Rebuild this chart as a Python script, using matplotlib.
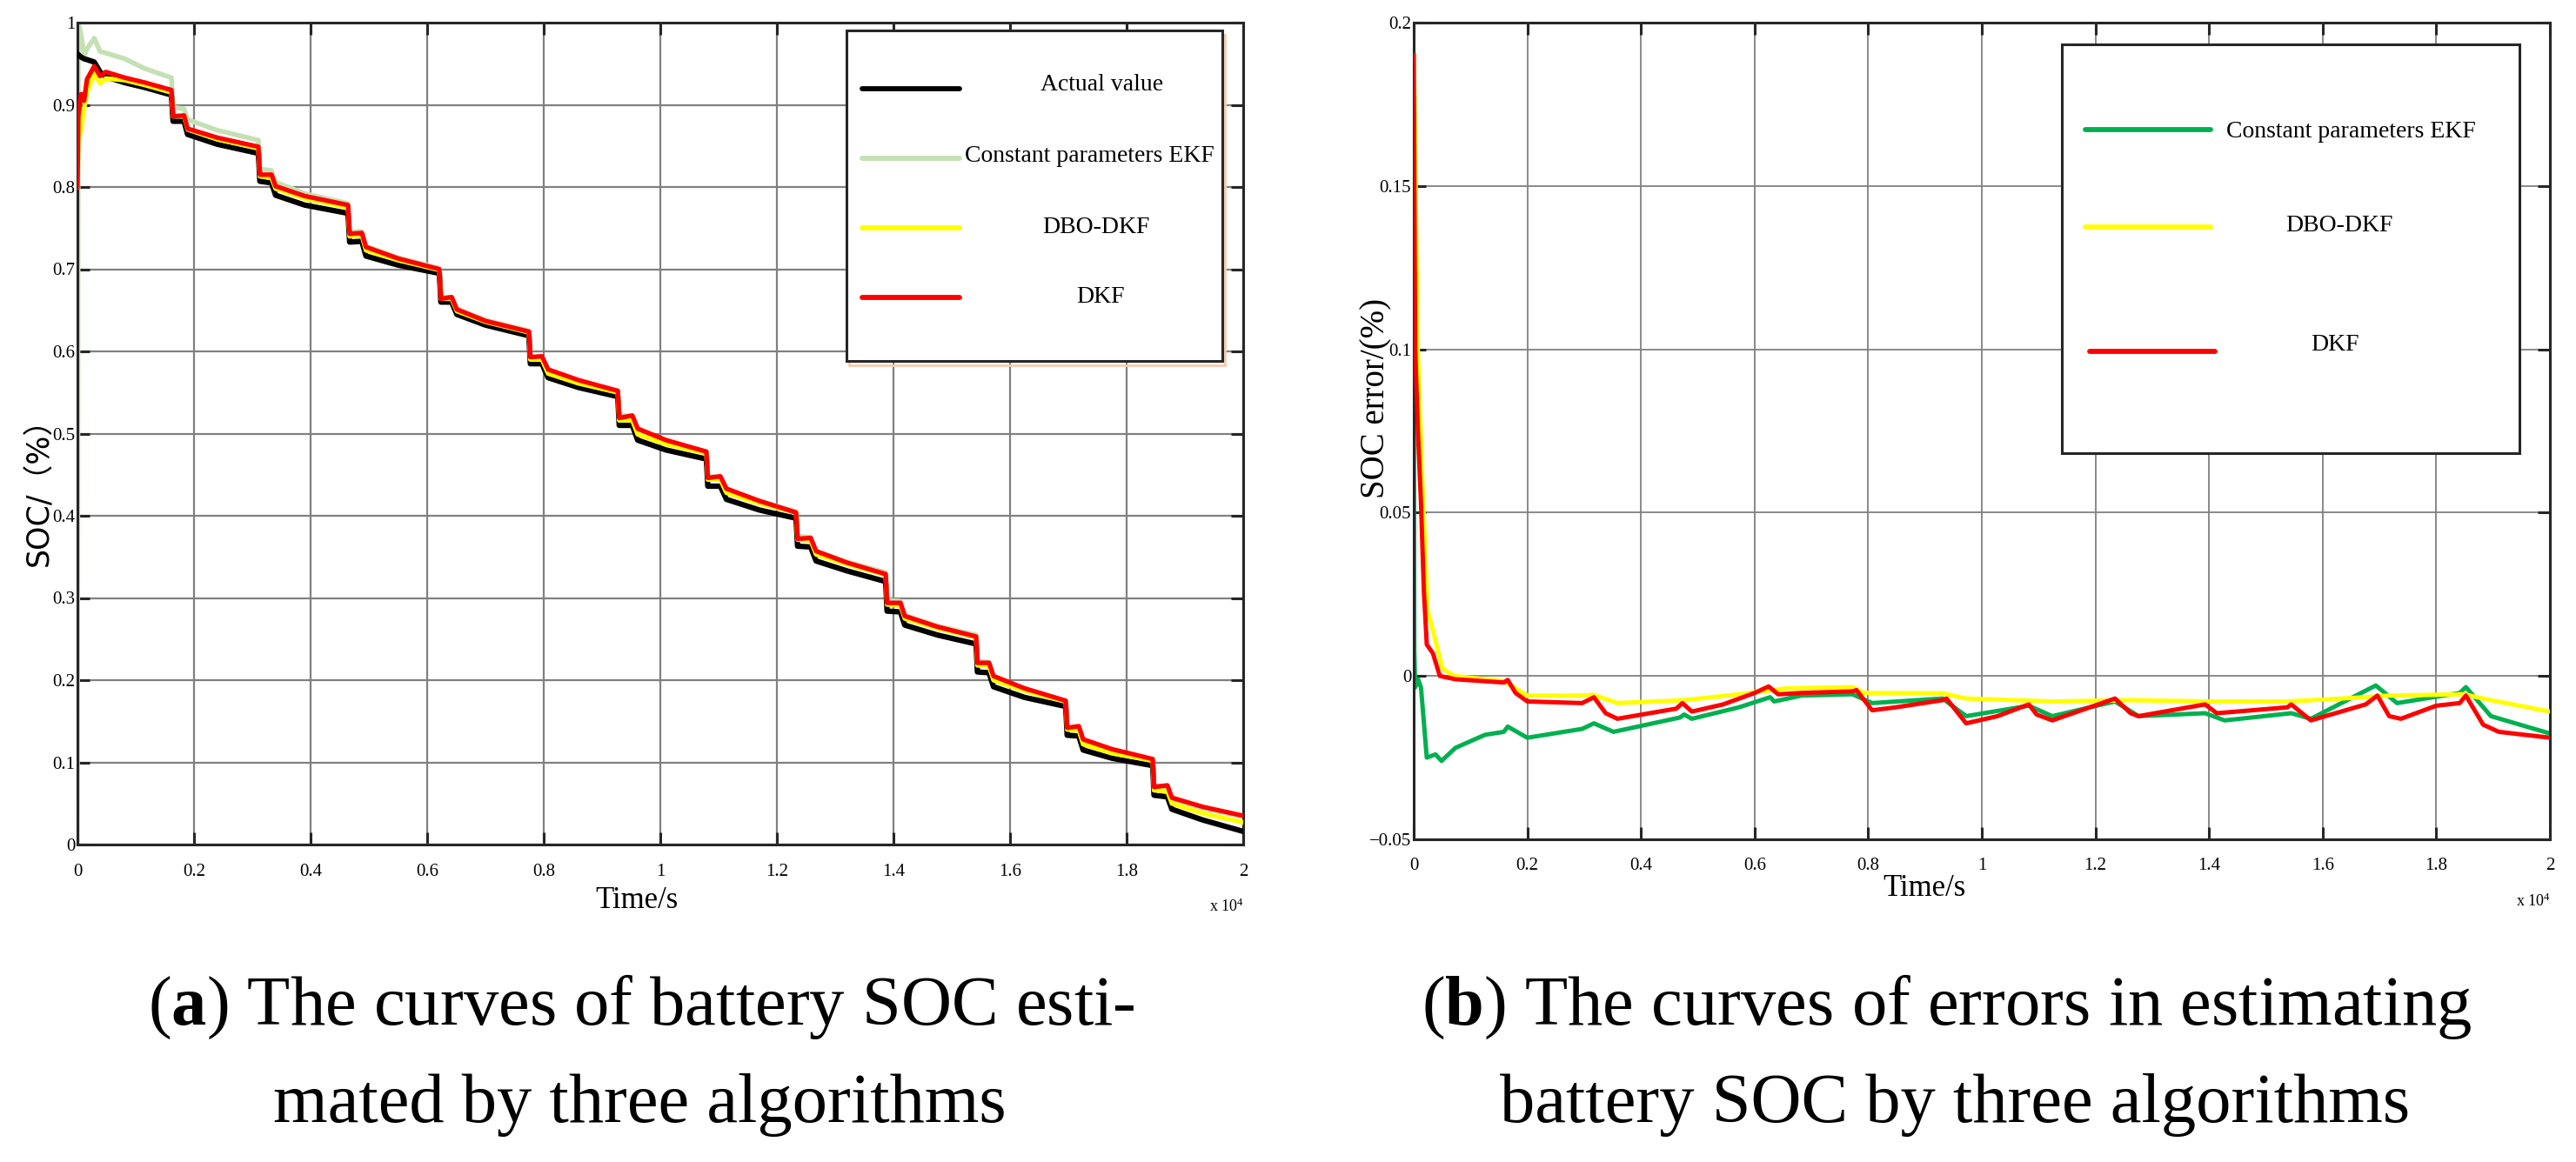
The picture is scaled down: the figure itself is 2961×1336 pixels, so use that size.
import matplotlib
matplotlib.use("Agg")
import matplotlib.pyplot as plt
from matplotlib.patches import Rectangle
from matplotlib.lines import Line2D

# ---------------- data: left panel (SOC estimates) ----------------
soc_time = [0, 15, 64, 114, 164, 288, 388, 487, 810, 1160, 1612,
            1640, 1830, 1890, 2400, 3104,
            3130, 3330, 3400, 3900, 4642,
            4670, 4880, 4950, 5500, 6209,
            6235, 6420, 6510, 7000, 7746,
            7770, 7970, 8075, 8600, 9270,
            9295, 9520, 9612, 10100, 10790,
            10815, 11030, 11134, 11700, 12328,
            12355, 12580, 12672, 13200, 13866,
            13890, 14120, 14194, 14750, 15418,
            15440, 15640, 15716, 16250, 16955,
            16980, 17180, 17254, 17750, 18448,
            18470, 18700, 18776, 19300, 20000]

soc_actual = [0.962, 0.961, 0.958, 0.956, 0.955, 0.952, 0.940, 0.934, 0.927, 0.921, 0.912,
              0.880, 0.880, 0.864, 0.852, 0.841,
              0.807, 0.805, 0.790, 0.778, 0.768,
              0.733, 0.734, 0.716, 0.705, 0.695,
              0.660, 0.660, 0.645, 0.632, 0.619,
              0.585, 0.585, 0.568, 0.556, 0.545,
              0.510, 0.510, 0.492, 0.480, 0.469,
              0.436, 0.436, 0.420, 0.407, 0.397,
              0.363, 0.362, 0.345, 0.333, 0.320,
              0.284, 0.283, 0.267, 0.255, 0.244,
              0.210, 0.209, 0.192, 0.179, 0.168,
              0.133, 0.132, 0.115, 0.105, 0.096,
              0.060, 0.058, 0.043, 0.030, 0.016]

soc_ekf = [0.0, 1.0, 0.985, 0.960, 0.968, 0.981, 0.965, 0.963, 0.956, 0.944, 0.933,
           0.897, 0.895, 0.882, 0.869, 0.857,
           0.822, 0.820, 0.806, 0.792, 0.780,
           0.745, 0.746, 0.728, 0.714, 0.701,
           0.666, 0.666, 0.652, 0.638, 0.625,
           0.593, 0.593, 0.576, 0.563, 0.552,
           0.522, 0.521, 0.504, 0.490, 0.478,
           0.448, 0.447, 0.432, 0.418, 0.405,
           0.375, 0.374, 0.357, 0.344, 0.331,
           0.297, 0.296, 0.279, 0.266, 0.255,
           0.223, 0.222, 0.205, 0.188, 0.171,
           0.141, 0.140, 0.123, 0.111, 0.100,
           0.072, 0.070, 0.055, 0.044, 0.034]

soc_dbo_dkf = [0.80, 0.855, 0.871, 0.895, 0.915, 0.938, 0.926, 0.932, 0.930, 0.924, 0.915,
               0.886, 0.886, 0.870, 0.858, 0.847,
               0.813, 0.811, 0.798, 0.786, 0.775,
               0.740, 0.741, 0.723, 0.711, 0.699,
               0.664, 0.664, 0.649, 0.636, 0.623,
               0.590, 0.590, 0.573, 0.561, 0.550,
               0.516, 0.516, 0.499, 0.487, 0.476,
               0.444, 0.444, 0.428, 0.415, 0.404,
               0.371, 0.370, 0.353, 0.341, 0.328,
               0.292, 0.291, 0.275, 0.263, 0.252,
               0.218, 0.217, 0.200, 0.187, 0.174,
               0.140, 0.139, 0.122, 0.111, 0.102,
               0.066, 0.065, 0.050, 0.038, 0.027]

soc_dkf = [0.80, 0.886, 0.913, 0.905, 0.931, 0.947, 0.935, 0.940, 0.933, 0.927, 0.918,
           0.886, 0.887, 0.871, 0.860, 0.849,
           0.815, 0.815, 0.801, 0.789, 0.778,
           0.743, 0.744, 0.727, 0.713, 0.700,
           0.664, 0.666, 0.651, 0.637, 0.624,
           0.593, 0.594, 0.578, 0.565, 0.552,
           0.519, 0.522, 0.506, 0.492, 0.478,
           0.446, 0.448, 0.433, 0.418, 0.404,
           0.372, 0.373, 0.357, 0.343, 0.329,
           0.294, 0.294, 0.278, 0.265, 0.253,
           0.221, 0.221, 0.205, 0.190, 0.175,
           0.142, 0.144, 0.128, 0.116, 0.104,
           0.070, 0.072, 0.057, 0.046, 0.035]

# ---------------- data: right panel (SOC errors) ----------------
err_ekf_t = [0, 10, 26, 77, 128, 230, 383, 490, 735, 995,
             1256, 1586, 1655, 2000, 2965, 3172, 3517, 4689, 4758, 4896,
             5723, 6275, 6344, 6827, 7724, 8069, 9310, 9724, 10827, 11241,
             12344, 12758, 13930, 14275, 15447, 15792, 16936, 17309, 18412, 18521,
             18962, 20000]
err_ekf = [0.095, 0.0085, -0.0035, -0.001, -0.0035, -0.025, -0.024, -0.026, -0.022, -0.020,
           -0.018, -0.0171, -0.0155, -0.0189, -0.0162, -0.0145, -0.0171, -0.0127, -0.0118, -0.0131,
           -0.0096, -0.0065, -0.0078, -0.006, -0.0056, -0.0083, -0.0069, -0.0123, -0.0091, -0.0123,
           -0.0078, -0.0123, -0.0114, -0.0136, -0.0114, -0.0131, -0.0029, -0.0083, -0.0052, -0.0034,
           -0.0123, -0.0176]

err_dbo_t = [0, 15, 40, 72, 149, 245, 352, 505, 704, 1586,
             2000, 2965, 3172, 3586, 4758, 5723, 6550, 7724, 7930, 9310,
             9724, 11241, 12620, 14000, 15378, 16757, 17171, 18480, 18962, 20000]
err_dbo = [0.19, 0.176, 0.14, 0.10, 0.061, 0.020, 0.013, 0.0024, 0.0, -0.0016,
           -0.006, -0.006, -0.0058, -0.0083, -0.0074, -0.0056, -0.0038, -0.0034, -0.0052, -0.0053,
           -0.0069, -0.0078, -0.0074, -0.0078, -0.0078, -0.0065, -0.006, -0.0056, -0.0074, -0.0109]

err_dkf_t = [0, 26, 77, 128, 179, 230, 337, 460, 735, 1586,
             1655, 1793, 2000, 2965, 3172, 3379, 3586, 4620, 4730, 4896,
             5447, 6000, 6248, 6414, 6827, 7724, 7793, 8069, 8482, 9310,
             9379, 9724, 10275, 10827, 10965, 11241, 12344, 12620, 12758, 13930,
             14137, 15378, 15447, 15792, 16757, 16964, 17171, 17378, 17999, 18412,
             18521, 18825, 19100, 20000]
err_dkf = [0.190, 0.100, 0.074, 0.053, 0.026, 0.0096, 0.007, 0.0, -0.001, -0.002,
           -0.0012, -0.0052, -0.0078, -0.0083, -0.0065, -0.0114, -0.0131, -0.010, -0.0083, -0.0109,
           -0.0087, -0.0052, -0.0032, -0.0056, -0.0052, -0.0047, -0.0043, -0.0105, -0.0096, -0.0074,
           -0.0069, -0.0145, -0.0123, -0.0087, -0.0118, -0.0136, -0.0069, -0.0114, -0.0123, -0.0087,
           -0.0114, -0.0096, -0.0087, -0.0136, -0.0087, -0.006, -0.0123, -0.0131, -0.0091, -0.0083,
           -0.006, -0.0149, -0.0171, -0.0189]

# ---------------- ticks & labels ----------------
x_tick_vals = [0, 0.2, 0.4, 0.6, 0.8, 1, 1.2, 1.4, 1.6, 1.8, 2]   # x 10^4 s
x_tick_labels = ["0", "0.2", "0.4", "0.6", "0.8", "1", "1.2", "1.4", "1.6", "1.8", "2"]
soc_ticks = [0, 0.1, 0.2, 0.3, 0.4, 0.5, 0.6, 0.7, 0.8, 0.9, 1]
soc_tick_labels = ["0", "0.1", "0.2", "0.3", "0.4", "0.5", "0.6", "0.7", "0.8", "0.9", "1"]
err_ticks = [-0.05, 0, 0.05, 0.1, 0.15, 0.2]
err_tick_labels = ["\u22120.05", "0", "0.05", "0.1", "0.15", "0.2"]

left_names = ["Actual value", "Constant parameters EKF", "DBO-DKF", "DKF"]
left_colors = ["#000000", "#c5e0b4", "#ffff00", "#ff0000"]
right_names = ["Constant parameters EKF", "DBO-DKF", "DKF"]
right_colors = ["#00b050", "#ffff00", "#ff0000"]

caption_a = [r"($\mathbf{a}$) The curves of battery SOC esti-", "mated by three algorithms"]
caption_b = [r"($\mathbf{b}$) The curves of errors in estimating", "battery SOC by three algorithms"]

# ---------------- style ----------------
plt.rcParams["mathtext.fontset"] = "custom"
plt.rcParams["mathtext.rm"] = "Liberation Serif"
plt.rcParams["mathtext.bf"] = "Liberation Serif:bold"
plt.rcParams["mathtext.it"] = "Liberation Serif:italic"
SERIF = "Liberation Serif"

W, H = 2961, 1336
fig = plt.figure(figsize=(W / 100, H / 100), dpi=100)


def fx(px):
    return px / W


def fy(py):
    return 1 - py / H


axL = fig.add_axes([fx(89), fy(971), 1340 / W, 945 / H])
axR = fig.add_axes([fx(1625), fy(965), 1306 / W, 939 / H])


def style(ax, yticks, ylabels, grid_lw, xpad):
    ax.set_xlim(0, 20000)
    ax.set_xticks([v * 1e4 for v in x_tick_vals])
    ax.set_xticklabels(x_tick_labels, fontfamily=SERIF, fontsize=15)
    ax.set_yticks(yticks)
    ax.set_yticklabels(ylabels, fontfamily=SERIF, fontsize=15)
    ax.set_ylim(yticks[0], yticks[-1])
    ax.grid(True, color="#808080", lw=grid_lw)
    ax.set_axisbelow(True)
    ax.tick_params(axis="both", direction="in", length=10, width=2.2, color="#262626",
                   top=True, right=True)
    ax.tick_params(axis="x", pad=xpad)
    ax.tick_params(axis="y", pad=2)
    for s in ax.spines.values():
        s.set_linewidth(2.2)
        s.set_color("#262626")


style(axL, soc_ticks, soc_tick_labels, 1.6, 16)
style(axR, err_ticks, err_tick_labels, 1.3, 15)

# left curves
axL.plot(soc_time, soc_ekf, color=left_colors[1], lw=4.0, zorder=2)
axL.plot(soc_time, soc_actual, color=left_colors[0], lw=4.5, zorder=3)
axL.plot(soc_time, soc_dbo_dkf, color=left_colors[2], lw=3.8, zorder=4)
axL.plot(soc_time, soc_dkf, color=left_colors[3], lw=3.8, zorder=5)

# right curves
axR.plot(err_ekf_t, err_ekf, color=right_colors[0], lw=3.6, zorder=2)
axR.plot(err_dbo_t, err_dbo, color=right_colors[1], lw=3.6, zorder=3)
axR.plot(err_dkf_t, err_dkf, color=right_colors[2], lw=3.6, zorder=4)

# axis labels
fig.text(fx(732), fy(1036), "Time/s", family=SERIF, fontsize=25, ha="center", va="center")
fig.text(fx(2212), fy(1022), "Time/s", family=SERIF, fontsize=25, ha="center", va="center")
fig.text(fx(1410), fy(1042), r"x $10^4$", family=SERIF, fontsize=13, ha="center", va="center")
fig.text(fx(2912), fy(1036), r"x $10^4$", family=SERIF, fontsize=13, ha="center", va="center")
fig.text(fx(45), fy(557), "SOC/\uff08%\uff09", rotation=90, family=["DejaVu Sans", "Noto Sans CJK SC"],
         fontsize=25, ha="center", va="center")
fig.text(fx(1582), fy(458), "SOC error/(%)", rotation=90, family=SERIF,
         fontsize=28, ha="center", va="center")


# ---------------- legends (drawn as boxes) ----------------
def legend_box(x0, y0, x1, y1, shadow):
    fig.add_artist(Rectangle((fx(x0), fy(y1)), (x1 - x0) / W, (y1 - y0) / H,
                             transform=fig.transFigure, facecolor="white",
                             edgecolor="#262626", lw=2.2, zorder=10))
    if shadow:
        fig.add_artist(Rectangle((fx(x0 + 3), fy(y1 + 5)), (x1 - x0) / W, (y1 - y0) / H,
                                 transform=fig.transFigure, facecolor="none",
                                 edgecolor="#f8cbad", lw=2.0, zorder=9))


def legend_entry(xa, xb, y, color, label, xc, yt):
    fig.add_artist(Line2D([fx(xa), fx(xb)], [fy(y), fy(y)], transform=fig.transFigure,
                          color=color, lw=4.2, solid_capstyle="round", zorder=11))
    fig.text(fx(xc), fy(yt), label, family=SERIF, fontsize=20, ha="center", va="center", zorder=12)


legend_box(973, 35, 1405, 415, True)
left_rows = [(102, 1267, 97), (182, 1252, 179), (262, 1260, 262), (342, 1265, 342)]
for (ly, xc, yt), name, col in zip(left_rows, left_names, left_colors):
    legend_entry(991, 1103, ly, col, name, xc, yt)

legend_box(2370, 51, 2896, 521, False)
right_rows = [(149, 2397, 2541, 2702, 151), (261, 2397, 2541, 2689, 259), (404, 2402, 2546, 2684, 397)]
for (ly, xa, xb, xc, yt), name, col in zip(right_rows, right_names, right_colors):
    legend_entry(xa, xb, ly, col, name, xc, yt)

# ---------------- captions ----------------
fig.text(fx(737), fy(1178), caption_a[0], family=SERIF, fontsize=58, ha="center", va="baseline")
fig.text(fx(735), fy(1290), caption_a[1], family=SERIF, fontsize=58, ha="center", va="baseline")
fig.text(fx(2238), fy(1178), caption_b[0], family=SERIF, fontsize=58, ha="center", va="baseline")
fig.text(fx(2247), fy(1290), caption_b[1], family=SERIF, fontsize=58, ha="center", va="baseline")

fig.savefig("out.png", dpi=100, facecolor="white")
